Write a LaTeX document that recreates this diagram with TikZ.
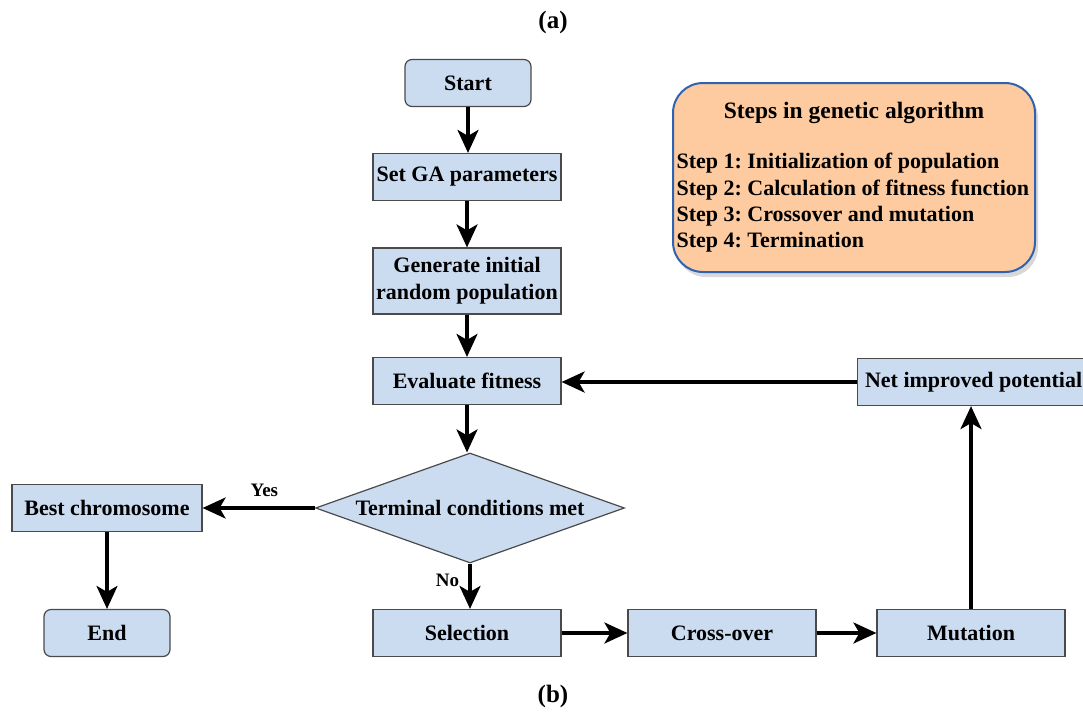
\documentclass[tikz,border=0pt]{standalone}
\usepackage{fontspec}
\setmainfont{Liberation Serif}
\frenchspacing
\usetikzlibrary{shapes.geometric,arrows.meta,shadows}
\definecolor{boxblue}{HTML}{CBDCF1}
\definecolor{boxedge}{HTML}{4A4A4A}
\definecolor{stepfill}{HTML}{FDCB9F}
\definecolor{stepedge}{HTML}{2F62B0}
\begin{document}
\begin{tikzpicture}[x=1pt,y=-1pt,
  every node/.style={font=\fontsize{22}{26}\selectfont\bfseries},
  procbox/.style={draw=boxedge,line width=1.2pt,fill=boxblue,minimum width=188pt,minimum height=47pt,inner sep=2pt,align=center},
  termbox/.style={procbox,rounded corners=7pt,minimum width=126pt},
  decbox/.style={draw=boxedge,line width=1.2pt,fill=boxblue,diamond,aspect=2.81,minimum width=309pt,minimum height=110pt,inner sep=0pt},
  flow/.style={line width=3.3pt,-{Stealth[length=23pt,width=21pt,inset=6pt]}},
  lbl/.style={font=\fontsize{19}{22}\selectfont\bfseries}]
\useasboundingbox (0,0) rectangle (1083,712);
\node[font=\fontsize{25}{28}\selectfont\bfseries] (ta) at (553,22) {(a)};
\node[font=\fontsize{25}{28}\selectfont\bfseries] (tb) at (553,696) {(b)};
\node[termbox] (start) at (468,83) {Start};
\node[procbox] (set) at (467,177) {Set GA parameters};
\node[procbox,minimum height=66pt,font=\fontsize{22}{27}\selectfont\bfseries] (gen) at (467,281) {Generate initial\\random population};
\node[procbox] (eval) at (467,381) {Evaluate fitness};
\node[decbox] (dec) at (470,508) {};
\node (dectext) at (470,508) {Terminal conditions met};
\node[procbox,minimum width=190pt] (best) at (107,508) {Best chromosome};
\node[termbox] (end) at (107,633) {End};
\node[procbox] (sel) at (467,633) {Selection};
\node[procbox] (cross) at (722,633) {Cross-over};
\node[procbox] (mut) at (971,633) {Mutation};
\node[procbox,minimum width=232pt,anchor=west] (net) at (857,382) {Net improved potential};
\node[draw=stepedge,line width=2pt,fill=stepfill,rounded corners=30pt,minimum width=362pt,minimum height=189pt,
  drop shadow={shadow xshift=3pt,shadow yshift=-5pt,fill=gray!60,opacity=0.5}] (steps) at (854,177.5) {};
\node[font=\fontsize{23.5}{27}\selectfont\bfseries] (stitle) at (854,113) {Steps in genetic algorithm};
\node[anchor=west,align=left,font=\fontsize{22}{26.3}\selectfont\bfseries] (slist) at (673,203) {Step 1: Initialization of population\\Step 2: Calculation of fitness function\\Step 3: Crossover and mutation\\Step 4: Termination};
\draw[flow] (start.south) -- (start.south |- set.north);
\draw[flow] (set) -- (gen);
\draw[flow] (gen) -- (eval);
\draw[flow] (eval.south) -- (eval.south |- dec.north);
\draw[flow] (dec.west) -- node[lbl,above,yshift=6pt,pos=0.45] (yes) {Yes} (best.east);
\draw[flow] (best) -- (end);
\draw[flow] (dec.south) -- node[lbl,left,xshift=-6pt,pos=0.38] (no) {No} (dec.south |- sel.north);
\draw[flow] (sel) -- (cross);
\draw[flow] (cross) -- (mut);
\draw[flow] (mut.north) -- (mut.north |- net.south);
\draw[flow] (net.west) -- (net.west -| eval.east);
\end{tikzpicture}
\end{document}
